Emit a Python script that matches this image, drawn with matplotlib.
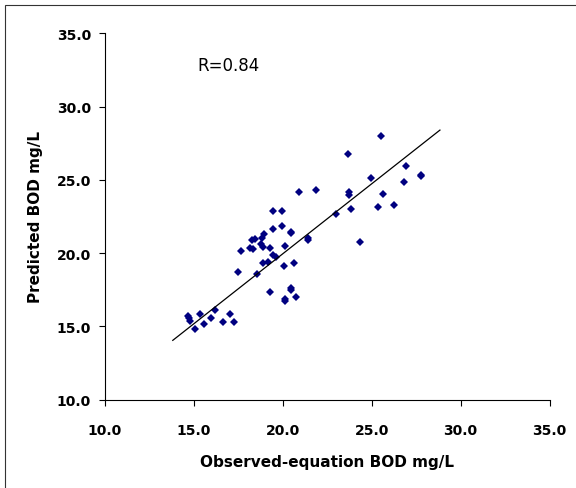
import matplotlib
matplotlib.use('Agg')
import matplotlib.pyplot as plt
import matplotlib.patches as mp
import numpy as np

plt.rcParams['font.family'] = ['DejaVu Sans']

# observed-equation BOD vs predicted BOD (mg/L)
observed = [25.54, 23.68, 26.96, 24.98, 27.79, 27.80, 26.84, 20.89, 21.88, 23.72,
            23.72, 25.66, 25.35, 26.26, 23.86, 23.00, 19.44, 19.96, 19.96, 19.44,
            20.45, 20.45, 21.43, 21.43, 24.36, 18.95, 18.86, 18.45, 18.26, 18.78,
            18.90, 19.26, 18.14, 18.35, 17.67, 20.12, 19.44, 19.65, 18.90, 19.15,
            20.62, 20.06, 17.46, 18.57, 19.26, 20.45, 20.45, 20.76, 20.12, 20.12,
            14.67, 14.73, 14.81, 15.37, 16.18, 15.97, 15.56, 15.06, 16.65, 17.05,
            17.29]
predicted = [27.97, 26.77, 25.95, 25.10, 25.24, 25.32, 24.88, 24.19, 24.29, 24.19,
             23.97, 24.06, 23.15, 23.31, 23.01, 22.69, 22.85, 22.85, 21.87, 21.65,
             21.46, 21.37, 21.06, 20.92, 20.74, 21.28, 21.06, 20.99, 20.92, 20.60,
             20.44, 20.37, 20.37, 20.28, 20.15, 20.46, 19.87, 19.74, 19.33, 19.42,
             19.33, 19.10, 18.74, 18.55, 17.37, 17.60, 17.46, 17.01, 16.87, 16.76,
             15.73, 15.57, 15.39, 15.82, 16.10, 15.55, 15.19, 14.82, 15.28, 15.82,
             15.28]

# trend line as drawn on the picture
trend_slope = 0.955
trend_intercept = 0.85
trend_x = [13.82, 28.84]
r_label = 'R=0.84'

ticks = [10.0, 15.0, 20.0, 25.0, 30.0, 35.0]
tick_labels = ['%.1f' % t for t in ticks]

fig = plt.figure(figsize=(5.76, 4.89), dpi=100)
ax = fig.add_axes([0.182, 0.1806, 0.772, 0.7494])

ax.plot(observed, predicted, linestyle='none', marker='D', markersize=3.7,
        color='#000080', markeredgewidth=0)
tx = np.array(trend_x)
ax.plot(tx, trend_slope * tx + trend_intercept, color='black', lw=0.9)

ax.set_xlim(10, 35); ax.set_ylim(10, 35)
ax.set_xticks(ticks); ax.set_yticks(ticks)
ax.set_xticklabels(tick_labels, fontweight='bold', fontsize=10)
ax.set_yticklabels(tick_labels, fontweight='bold', fontsize=10)
ax.tick_params(axis='x', direction='out', length=4, width=0.8, pad=13)
ax.tick_params(axis='y', direction='out', length=4, width=0.8, pad=6)
for s in ('top', 'right'):
    ax.spines[s].set_visible(False)
for s in ('left', 'bottom'):
    ax.spines[s].set_linewidth(0.8)

ax.set_xlabel('Observed-equation BOD mg/L', fontweight='bold', fontsize=11, labelpad=12)
ax.set_ylabel('Predicted BOD mg/L', fontweight='bold', fontsize=11, labelpad=10)
ax.text(15.2, 32.8, r_label, fontsize=12, va='center', ha='left')

# chart border (runs off the right and bottom edge)
fig.patches.append(mp.Rectangle((5/576, -0.05), 1.1, 1 - 6/489 + 0.05,
                                transform=fig.transFigure, fill=False,
                                edgecolor='#333333', lw=0.8))

fig.savefig('out.png', dpi=100)
